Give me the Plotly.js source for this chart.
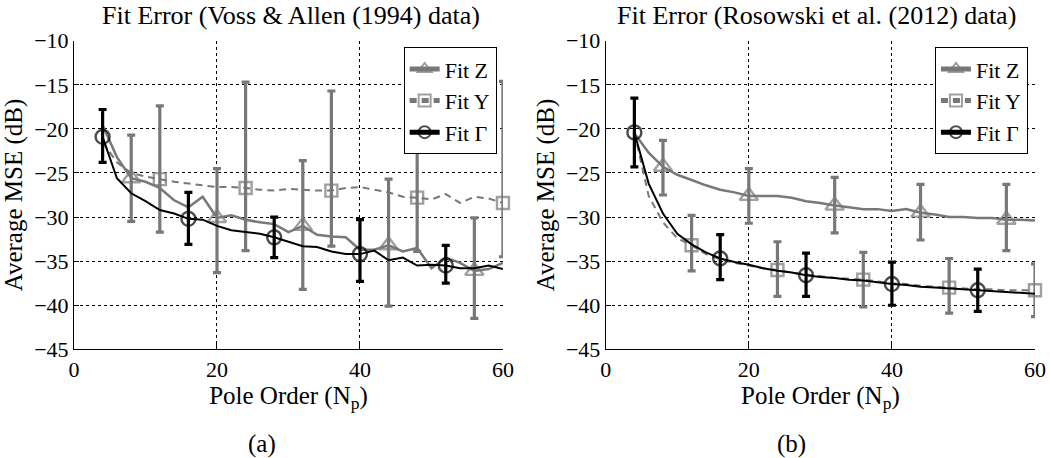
<!DOCTYPE html>
<html>
<head>
<meta charset="utf-8">
<script src="https://cdn.plot.ly/plotly-3.0.1.min.js"></script>
<style>html,body{margin:0;padding:0;background:#fff;}#chart{width:1050px;height:458px;}</style>
</head>
<body>
<div id="chart"></div>
<script>
// ---------------- DATA ----------------
const poleOrder = [4,6,8,10,12,14,16,18,20,22,24,26,28,30,32,34,36,38,40,42,44,46,48,50,52,54,56,58,60];
const xTicks = [0,20,40,60];
const yTicks = [-10,-15,-20,-25,-30,-35,-40,-45];
const seriesNames = ['Fit Z','Fit Y','Fit \u0393'];

// (a) Voss & Allen (1994)
const vossZ = [-19.6,-23.2,-25.6,-26.0,-26.7,-28.1,-28.9,-27.7,-30.1,-29.8,-30.3,-30.6,-30.8,-31.7,-31.0,-32.0,-32.2,-32.3,-33.7,-33.7,-33.2,-33.9,-33.5,-35.8,-34.6,-35.2,-36.1,-35.9,-35.2];
const vossY = [-21.5,-23.8,-25.0,-25.4,-25.7,-26.0,-26.2,-26.4,-26.6,-26.6,-26.7,-26.9,-27.0,-26.8,-26.9,-27.0,-27.0,-26.7,-26.6,-26.9,-27.2,-27.7,-27.8,-28.0,-27.4,-28.4,-27.7,-27.9,-28.4];
const vossG = [-20.9,-25.6,-27.3,-28.2,-29.2,-29.6,-30.2,-30.3,-31.0,-31.5,-31.7,-31.9,-32.3,-32.8,-33.3,-33.4,-33.9,-34.2,-34.2,-33.8,-34.9,-34.6,-35.5,-35.4,-35.5,-35.8,-35.8,-35.5,-35.9];
const vossZMarkX = [8,20,32,44,56];
const vossZErrUp = [4.9,5.6,7.4,7.5,6.0];
const vossZErrDown = [4.9,6.2,7.2,6.9,5.4];
const vossYMarkX = [12,24,36,48,60];
const vossYErrUp = [8.3,12.0,11.3,13.3,13.8];
const vossYErrDown = [6.0,7.1,6.3,6.1,6.1];
const vossGMarkX = [4,16,28,40,52];
const vossGErrUp = [3.1,3.0,2.3,3.9,2.3];
const vossGErrDown = [2.9,2.9,2.3,3.1,2.0];

// (b) Rosowski et al. (2012)
const rosZ = [-20.5,-22.7,-24.3,-25.2,-25.8,-26.4,-26.9,-27.2,-27.6,-27.6,-27.6,-27.8,-28.2,-28.4,-28.7,-28.9,-29.1,-29.1,-29.3,-29.1,-29.5,-29.7,-30.0,-30.0,-30.1,-30.1,-30.3,-30.3,-30.4];
const rosY = [-20.4,-27.6,-30.6,-32.4,-33.2,-34.2,-34.8,-35.2,-35.5,-35.8,-36.0,-36.3,-36.5,-36.7,-36.9,-37.0,-37.1,-37.3,-37.5,-37.6,-37.8,-37.9,-38.0,-38.1,-38.2,-38.2,-38.3,-38.3,-38.3];
const rosG = [-20.4,-26.2,-29.6,-31.9,-33.1,-34.0,-34.7,-35.1,-35.4,-35.8,-36.1,-36.3,-36.6,-36.8,-36.9,-37.1,-37.2,-37.4,-37.6,-37.7,-37.9,-38.0,-38.1,-38.2,-38.3,-38.4,-38.5,-38.6,-38.7];
const rosZMarkX = [8,20,32,44,56];
const rosZErrUp = [3.0,3.1,3.2,3.2,4.0];
const rosZErrDown = [3.2,3.1,3.1,3.1,3.5];
const rosYMarkX = [12,24,36,48,60];
const rosYErrUp = [3.4,3.2,3.1,3.3,3.0];
const rosYErrDown = [2.9,3.0,3.1,2.9,3.0];
const rosGMarkX = [4,16,28,40,52];
const rosGErrUp = [3.9,2.7,2.5,2.5,2.4];
const rosGErrDown = [3.9,2.4,2.4,2.4,2.4];

// ---------------- STYLE ----------------
const GRAY = 'rgb(120,120,120)';
const FONT = 'Liberation Serif, "Times New Roman", Times, serif';
const styles = [
  {color: GRAY, dash: 'solid', symbol: 'triangle-up-open', size: 16, lw: 2.5},
  {color: GRAY, dash: '7px,5px', symbol: 'square-open', size: 12, lw: 2},
  {color: 'black', dash: 'solid', symbol: 'circle-open', size: 14, lw: 2}
];

function pick(markX, vals) {
  return poleOrder.map(x => { const i = markX.indexOf(x); return i >= 0 ? vals[i] : NaN; });
}
function makeTrace(name, y, markX, up, down, st, xa, ya, legendId) {
  return {
    type: 'scatter', mode: 'lines+markers', name: name,
    x: poleOrder, y: y, xaxis: xa, yaxis: ya, legend: legendId,
    cliponaxis: false,
    line: {color: st.color, width: st.lw, dash: st.dash},
    marker: {symbol: st.symbol, color: st.color,
             size: poleOrder.map(x => markX.indexOf(x) >= 0 ? st.size : 0),
             line: {color: st.color, width: 2.4}},
    error_y: {type: 'data', symmetric: false, array: pick(markX, up), arrayminus: pick(markX, down),
              color: st.color, thickness: 3.2, width: 4},
    hoverinfo: 'x+y'
  };
}

const data = [
  makeTrace(seriesNames[0], vossZ, vossZMarkX, vossZErrUp, vossZErrDown, styles[0], 'x', 'y', 'legend'),
  makeTrace(seriesNames[1], vossY, vossYMarkX, vossYErrUp, vossYErrDown, styles[1], 'x', 'y', 'legend'),
  makeTrace(seriesNames[2], vossG, vossGMarkX, vossGErrUp, vossGErrDown, styles[2], 'x', 'y', 'legend'),
  makeTrace(seriesNames[0], rosZ, rosZMarkX, rosZErrUp, rosZErrDown, styles[0], 'x2', 'y2', 'legend2'),
  makeTrace(seriesNames[1], rosY, rosYMarkX, rosYErrUp, rosYErrDown, styles[1], 'x2', 'y2', 'legend2'),
  makeTrace(seriesNames[2], rosG, rosGMarkX, rosGErrUp, rosGErrDown, styles[2], 'x2', 'y2', 'legend2')
];

function xAxis(domain, anchor) {
  return {domain: domain, anchor: anchor, range: [0, 60], tickvals: xTicks,
    showline: true, linecolor: 'black', linewidth: 1, mirror: false,
    ticks: 'inside', ticklen: 5, tickcolor: 'black',
    showgrid: true, gridcolor: 'black', gridwidth: 1, griddash: 'dot', zeroline: false,
    tickfont: {size: 22, family: FONT},
    title: {text: 'Pole Order (N<sub>p</sub>)', font: {size: 25, family: FONT}, standoff: 2}};
}
function yAxis(domain, anchor) {
  return {domain: domain, anchor: anchor, range: [-45, -10], tickvals: yTicks,
    showline: true, linecolor: 'black', linewidth: 1, mirror: false,
    ticks: 'inside', ticklen: 5, tickcolor: 'black',
    showgrid: true, gridcolor: 'black', gridwidth: 1, griddash: 'dot', zeroline: false,
    tickfont: {size: 22, family: FONT},
    title: {text: 'Average MSE (dB)', font: {size: 25, family: FONT}, standoff: 4}};
}
function legendBox(x) {
  return {x: x, y: 0.897, xanchor: 'right', yanchor: 'top', bgcolor: 'white',
    bordercolor: 'black', borderwidth: 1, itemsizing: 'constant', tracegroupgap: 0,
    font: {size: 22, family: FONT, color: 'black'}};
}

const layout = {
  width: 1050, height: 458,
  margin: {l: 0, r: 0, t: 0, b: 0},
  paper_bgcolor: 'white', plot_bgcolor: 'white',
  font: {family: FONT, color: 'black', size: 22},
  showlegend: true,
  xaxis: xAxis([0.0705, 0.479], 'y'),
  yaxis: yAxis([0.2373, 0.9111], 'x'),
  xaxis2: xAxis([0.5769, 0.9857], 'y2'),
  yaxis2: yAxis([0.2373, 0.9111], 'x2'),
  legend: legendBox(0.473),
  legend2: legendBox(0.979),
  annotations: [
    {text: 'Fit Error (Voss &amp; Allen (1994) data)', x: 0.277, y: 0.966, xref: 'paper', yref: 'paper',
     xanchor: 'center', yanchor: 'middle', showarrow: false, font: {size: 26, family: FONT}},
    {text: 'Fit Error (Rosowski et al. (2012) data)', x: 0.778, y: 0.966, xref: 'paper', yref: 'paper',
     xanchor: 'center', yanchor: 'middle', showarrow: false, font: {size: 26, family: FONT}},
    {text: '(a)', x: 0.2495, y: 0.03, xref: 'paper', yref: 'paper', xanchor: 'center', yanchor: 'middle',
     showarrow: false, font: {size: 25, family: FONT}},
    {text: '(b)', x: 0.754, y: 0.03, xref: 'paper', yref: 'paper', xanchor: 'center', yanchor: 'middle',
     showarrow: false, font: {size: 25, family: FONT}}
  ]
};

Plotly.newPlot('chart', data, layout, {displayModeBar: false, staticPlot: true});
</script>
</body>
</html>
